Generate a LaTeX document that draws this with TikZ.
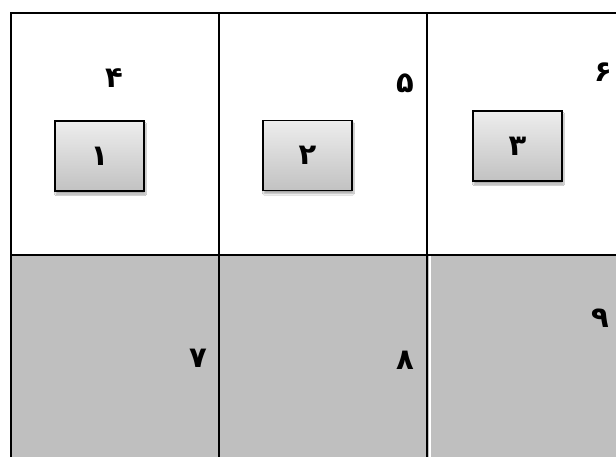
\documentclass[tikz,border=0pt]{standalone}
\usepackage{fontspec}
\newfontfamily\pfont[Script=Arabic]{DejaVu Sans}
\usetikzlibrary{shadows.blur}
\tikzset{
  gridline/.style={line width=2pt, draw=black},
  cellgray/.style={fill=black!25},
  smallbox/.style={draw=black, line width=1.8pt, minimum width=89pt, minimum height=70pt,
    top color=black!7, bottom color=black!24, inner sep=0pt,
    blur shadow={shadow xshift=1pt, shadow yshift=-3pt, shadow blur steps=6, shadow opacity=35},
    font=\pfont\bfseries\fontsize{29}{32}\selectfont},
  digit/.style={inner sep=0pt, font=\pfont\bfseries\fontsize{29}{32}\selectfont}
}
\begin{document}
\begin{tikzpicture}[x=1pt,y=-1pt]
\useasboundingbox[fill=white] (0,0) rectangle (616,457);
% gray bottom row
\fill[cellgray] (11,255) rectangle (616,457);
% grid lines
\coordinate (tr) at (616,13);
\coordinate (tl) at (11,13);
\coordinate (bl) at (11,457);
\coordinate (ml) at (11,255);
\coordinate (mr) at (616,255);
\coordinate (v1t) at (219,13);
\coordinate (v1b) at (219,457);
\coordinate (v2t) at (427,13);
\coordinate (v2b) at (427,457);
\coordinate (w2t) at (429.5,256);
\coordinate (w2b) at (429.5,457);
\draw[gridline] (tr) -- (tl) -- (bl);
\draw[gridline] (ml) -- (mr);
\draw[gridline] (v1t) -- (v1b);
\draw[gridline] (v2t) -- (v2b);
\draw[white, line width=2pt] (w2t) -- (w2b);
% boxes
\node[smallbox] (b1) at (99.5,156) {۱};
\node[smallbox] (b2) at (307.5,155.5) {۲};
\node[smallbox] (b3) at (517.5,146) {۳};
% labels
\node[digit] (l4) at (114,78) {۴};
\node[digit] (l5) at (405,83) {۵};
\node[digit] (l6) at (603,72) {۶};
\node[digit] (l7) at (198,358) {۷};
\node[digit] (l8) at (405,360) {۸};
\node[digit] (l9) at (600,318) {۹};
\end{tikzpicture}
\end{document}
